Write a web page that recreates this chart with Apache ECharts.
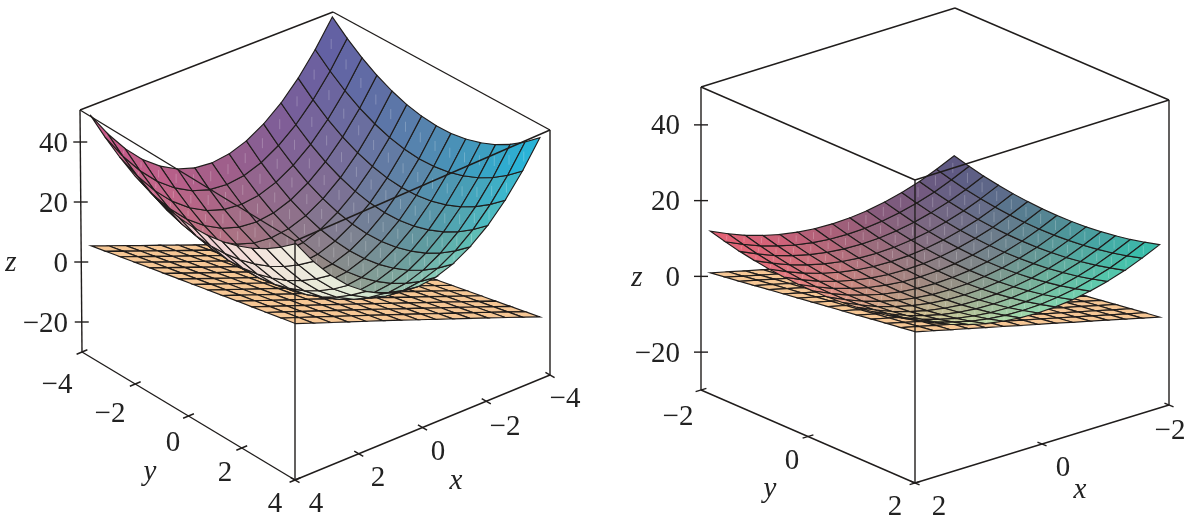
<!DOCTYPE html>
<html><head><meta charset="utf-8">
<style>html,body{margin:0;padding:0;background:#fff}#c{width:1193px;height:521px}</style>
<script src="https://cdn.jsdelivr.net/npm/echarts@6/dist/echarts.min.js"></script></head>
<body><div id="c"></div>
<script>
// ---------- data ----------
const surfaceXLeft=[-4,-3.43,-2.86,-2.29,-1.71,-1.14,-.57,0,.57,1.14,1.71,2.29,2.86,3.43,4];
const surfaceYLeft=[-4,-3.43,-2.86,-2.29,-1.71,-1.14,-.57,0,.57,1.14,1.71,2.29,2.86,3.43,4];
const surfaceZLeft=[
[48,39.51,32.33,26.45,21.88,18.61,16.65,16,16.65,18.61,21.88,26.45,32.33,39.51,48],
[43.76,35.27,28.09,22.21,17.64,14.37,12.41,11.76,12.41,14.37,17.64,22.21,28.09,35.27,43.76],
[40.16,31.67,24.49,18.61,14.04,10.77,8.81,8.16,8.81,10.77,14.04,18.61,24.49,31.67,40.16],
[37.22,28.73,21.55,15.67,11.1,7.83,5.87,5.22,5.87,7.83,11.1,15.67,21.55,28.73,37.22],
[34.94,26.45,19.27,13.39,8.82,5.55,3.59,2.94,3.59,5.55,8.82,13.39,19.27,26.45,34.94],
[33.31,24.82,17.64,11.76,7.19,3.92,1.96,1.31,1.96,3.92,7.19,11.76,17.64,24.82,33.31],
[32.33,23.84,16.66,10.78,6.21,2.94,.98,.33,.98,2.94,6.21,10.78,16.66,23.84,32.33],
[32,23.51,16.33,10.45,5.88,2.61,.65,0,.65,2.61,5.88,10.45,16.33,23.51,32],
[32.33,23.84,16.66,10.78,6.21,2.94,.98,.33,.98,2.94,6.21,10.78,16.66,23.84,32.33],
[33.31,24.82,17.64,11.76,7.19,3.92,1.96,1.31,1.96,3.92,7.19,11.76,17.64,24.82,33.31],
[34.94,26.45,19.27,13.39,8.82,5.55,3.59,2.94,3.59,5.55,8.82,13.39,19.27,26.45,34.94],
[37.22,28.73,21.55,15.67,11.1,7.83,5.87,5.22,5.87,7.83,11.1,15.67,21.55,28.73,37.22],
[40.16,31.67,24.49,18.61,14.04,10.77,8.81,8.16,8.81,10.77,14.04,18.61,24.49,31.67,40.16],
[43.76,35.27,28.09,22.21,17.64,14.37,12.41,11.76,12.41,14.37,17.64,22.21,28.09,35.27,43.76],
[48,39.51,32.33,26.45,21.88,18.61,16.65,16,16.65,18.61,21.88,26.45,32.33,39.51,48]];
const surfaceXRight=[-2,-1.71,-1.43,-1.14,-.86,-.57,-.29,0,.29,.57,.86,1.14,1.43,1.71,2];
const surfaceYRight=[-2,-1.71,-1.43,-1.14,-.86,-.57,-.29,0,.29,.57,.86,1.14,1.43,1.71,2];
const surfaceZRight=[
[12,9.88,8.08,6.61,5.47,4.65,4.16,4,4.16,4.65,5.47,6.61,8.08,9.88,12],
[10.94,8.82,7.02,5.55,4.41,3.59,3.1,2.94,3.1,3.59,4.41,5.55,7.02,8.82,10.94],
[10.04,7.92,6.12,4.65,3.51,2.69,2.2,2.04,2.2,2.69,3.51,4.65,6.12,7.92,10.04],
[9.31,7.19,5.39,3.92,2.78,1.96,1.47,1.31,1.47,1.96,2.78,3.92,5.39,7.19,9.31],
[8.73,6.61,4.81,3.34,2.2,1.38,.89,.73,.89,1.38,2.2,3.34,4.81,6.61,8.73],
[8.33,6.21,4.41,2.94,1.8,.98,.49,.33,.49,.98,1.8,2.94,4.41,6.21,8.33],
[8.08,5.96,4.16,2.69,1.55,.73,.24,.08,.24,.73,1.55,2.69,4.16,5.96,8.08],
[8,5.88,4.08,2.61,1.47,.65,.16,0,.16,.65,1.47,2.61,4.08,5.88,8],
[8.08,5.96,4.16,2.69,1.55,.73,.24,.08,.24,.73,1.55,2.69,4.16,5.96,8.08],
[8.33,6.21,4.41,2.94,1.8,.98,.49,.33,.49,.98,1.8,2.94,4.41,6.21,8.33],
[8.73,6.61,4.81,3.34,2.2,1.38,.89,.73,.89,1.38,2.2,3.34,4.81,6.61,8.73],
[9.31,7.19,5.39,3.92,2.78,1.96,1.47,1.31,1.47,1.96,2.78,3.92,5.39,7.19,9.31],
[10.04,7.92,6.12,4.65,3.51,2.69,2.2,2.04,2.2,2.69,3.51,4.65,6.12,7.92,10.04],
[10.94,8.82,7.02,5.55,4.41,3.59,3.1,2.94,3.1,3.59,4.41,5.55,7.02,8.82,10.94],
[12,9.88,8.08,6.61,5.47,4.65,4.16,4,4.16,4.65,5.47,6.61,8.08,9.88,12]];
const planeXLeft=surfaceXLeft, planeYLeft=surfaceYLeft;
const planeZLeft=[
[-27,-24.71,-22.43,-20.14,-17.86,-15.57,-13.29,-11,-8.71,-6.43,-4.14,-1.86,.43,2.71,5],
[-25.86,-23.57,-21.29,-19,-16.71,-14.43,-12.14,-9.86,-7.57,-5.29,-3,-.71,1.57,3.86,6.14],
[-24.71,-22.43,-20.14,-17.86,-15.57,-13.29,-11,-8.71,-6.43,-4.14,-1.86,.43,2.71,5,7.29],
[-23.57,-21.29,-19,-16.71,-14.43,-12.14,-9.86,-7.57,-5.29,-3,-.71,1.57,3.86,6.14,8.43],
[-22.43,-20.14,-17.86,-15.57,-13.29,-11,-8.71,-6.43,-4.14,-1.86,.43,2.71,5,7.29,9.57],
[-21.29,-19,-16.71,-14.43,-12.14,-9.86,-7.57,-5.29,-3,-.71,1.57,3.86,6.14,8.43,10.71],
[-20.14,-17.86,-15.57,-13.29,-11,-8.71,-6.43,-4.14,-1.86,.43,2.71,5,7.29,9.57,11.86],
[-19,-16.71,-14.43,-12.14,-9.86,-7.57,-5.29,-3,-.71,1.57,3.86,6.14,8.43,10.71,13],
[-17.86,-15.57,-13.29,-11,-8.71,-6.43,-4.14,-1.86,.43,2.71,5,7.29,9.57,11.86,14.14],
[-16.71,-14.43,-12.14,-9.86,-7.57,-5.29,-3,-.71,1.57,3.86,6.14,8.43,10.71,13,15.29],
[-15.57,-13.29,-11,-8.71,-6.43,-4.14,-1.86,.43,2.71,5,7.29,9.57,11.86,14.14,16.43],
[-14.43,-12.14,-9.86,-7.57,-5.29,-3,-.71,1.57,3.86,6.14,8.43,10.71,13,15.29,17.57],
[-13.29,-11,-8.71,-6.43,-4.14,-1.86,.43,2.71,5,7.29,9.57,11.86,14.14,16.43,18.71],
[-12.14,-9.86,-7.57,-5.29,-3,-.71,1.57,3.86,6.14,8.43,10.71,13,15.29,17.57,19.86],
[-11,-8.71,-6.43,-4.14,-1.86,.43,2.71,5,7.29,9.57,11.86,14.14,16.43,18.71,21]];
const planeXRight=surfaceXRight, planeYRight=surfaceYRight;
const planeZRight=[
[-15,-13.86,-12.71,-11.57,-10.43,-9.29,-8.14,-7,-5.86,-4.71,-3.57,-2.43,-1.29,-.14,1],
[-14.43,-13.29,-12.14,-11,-9.86,-8.71,-7.57,-6.43,-5.29,-4.14,-3,-1.86,-.71,.43,1.57],
[-13.86,-12.71,-11.57,-10.43,-9.29,-8.14,-7,-5.86,-4.71,-3.57,-2.43,-1.29,-.14,1,2.14],
[-13.29,-12.14,-11,-9.86,-8.71,-7.57,-6.43,-5.29,-4.14,-3,-1.86,-.71,.43,1.57,2.71],
[-12.71,-11.57,-10.43,-9.29,-8.14,-7,-5.86,-4.71,-3.57,-2.43,-1.29,-.14,1,2.14,3.29],
[-12.14,-11,-9.86,-8.71,-7.57,-6.43,-5.29,-4.14,-3,-1.86,-.71,.43,1.57,2.71,3.86],
[-11.57,-10.43,-9.29,-8.14,-7,-5.86,-4.71,-3.57,-2.43,-1.29,-.14,1,2.14,3.29,4.43],
[-11,-9.86,-8.71,-7.57,-6.43,-5.29,-4.14,-3,-1.86,-.71,.43,1.57,2.71,3.86,5],
[-10.43,-9.29,-8.14,-7,-5.86,-4.71,-3.57,-2.43,-1.29,-.14,1,2.14,3.29,4.43,5.57],
[-9.86,-8.71,-7.57,-6.43,-5.29,-4.14,-3,-1.86,-.71,.43,1.57,2.71,3.86,5,6.14],
[-9.29,-8.14,-7,-5.86,-4.71,-3.57,-2.43,-1.29,-.14,1,2.14,3.29,4.43,5.57,6.71],
[-8.71,-7.57,-6.43,-5.29,-4.14,-3,-1.86,-.71,.43,1.57,2.71,3.86,5,6.14,7.29],
[-8.14,-7,-5.86,-4.71,-3.57,-2.43,-1.29,-.14,1,2.14,3.29,4.43,5.57,6.71,7.86],
[-7.57,-6.43,-5.29,-4.14,-3,-1.86,-.71,.43,1.57,2.71,3.86,5,6.14,7.29,8.43],
[-7,-5.86,-4.71,-3.57,-2.43,-1.29,-.14,1,2.14,3.29,4.43,5.57,6.71,7.86,9]];
const zTicks=[-20,0,20,40];
const xyTicksLeft=[-4,-2,0,2,4];
const xyTicksRight=[-2,0,2];
// ---------- layout and style ----------
const FONT='"Liberation Serif","Times New Roman",serif';
const LINE='#201d1c';
const PLANE_COL='#f6c795';
const panels=[{
  range:4, zMin:-30, zMax:50.67, inset:.957,
  F:[295,480],L:[82,352],R:[550,375],B:[335,247],
  TF:[295,241],TL:[80,110],TR:[550,130],TB:[333,12],
  TLm:[80,106],TBm:[333,4],
  inner:[
   [[95,95,165],[128,92,152],[165,92,138],[190,92,138],[200,85,135]],
   [[90,112,168],[128,108,148],[155,116,132],[190,112,132],[215,125,155]],
   [[80,135,180],[112,130,152],[150,140,128],[200,160,150],[225,150,175]],
   [[55,160,198],[95,155,160],[148,170,152],[190,200,180],[235,200,205]],
   [[30,180,225],[95,195,185],[165,215,190],[215,230,210],[240,235,225]]],
  outer:[
   [[95,95,165],[128,92,152],[165,92,138],[190,92,138],[200,85,135]],
   [[90,112,168],[128,108,148],[170,130,150],[225,150,175],[225,150,175]],
   [[80,135,180],[112,130,152],[225,205,200],[235,205,205],[240,205,210]],
   [[55,160,198],[120,195,185],[200,225,200],[235,232,215],[245,225,220]],
   [[30,180,225],[120,200,190],[170,215,190],[225,235,215],[240,238,225]]],
  surface:[surfaceXLeft,surfaceYLeft,surfaceZLeft],
  plane:[planeXLeft,planeYLeft,planeZLeft],
  ticks:xyTicksLeft, tickLen:.17, zTickX:7,
  labels:[['−4',57,385],['−2',110,414],['0',173,443],['2',225,473],['4',275,504],
          ['4',316,504],['2',378,478],['0',438,452],['−2',505,427],['−4',565,399]],
  zLabelRight:68, axisNames:[['y',150,472],['x',456,481],['z',11,263]]
},{
  range:2, zMin:-30, zMax:50, inset:.96,
  F:[915,483],L:[701,390],R:[1169,405],B:[955,312],
  TF:[915,180],TL:[701,87],TR:[1169,100],TB:[955,8],
  TLm:[701,87],TBm:[955,8],
  inner:[
   [[90,85,130],[125,88,125],[165,92,120],[205,95,120],[230,95,115]],
   [[88,108,140],[122,110,132],[158,115,126],[202,118,125],[230,110,125]],
   [[78,138,150],[115,135,140],[155,140,130],[200,150,130],[235,145,135]],
   [[65,165,165],[105,175,155],[155,180,150],[205,190,145],[235,185,140]],
   [[50,190,170],[95,205,175],[150,220,175],[200,220,165],[230,215,155]]],
  outer:[
   [[90,85,130],[125,88,125],[165,92,120],[205,95,120],[230,95,115]],
   [[88,108,140],[122,110,132],[158,115,126],[202,118,125],[230,110,125]],
   [[78,138,150],[115,135,140],[155,140,130],[200,150,130],[235,145,135]],
   [[65,165,165],[105,175,155],[155,180,150],[205,190,145],[235,185,140]],
   [[50,190,170],[95,205,175],[150,220,175],[200,220,165],[230,215,155]]],
  surface:[surfaceXRight,surfaceYRight,surfaceZRight],
  plane:[planeXRight,planeYRight,planeZRight],
  ticks:xyTicksRight, tickLen:.085, zTickX:7,
  labels:[['−2',678,417],['0',792,461],['2',895,507],
          ['2',939,507],['0',1063,468],['−2',1170,431]],
  zLabelRight:680, axisNames:[['y',770,489],['x',1080,490],['z',637,278]]
}];
// ---------- projection ----------
const mix=(a,b,t)=>[a[0]+(b[0]-a[0])*t,a[1]+(b[1]-a[1])*t];
function project(p,x,y,z,tl,tb){
  const u=(p.range-x)/(2*p.range),v=(p.range-y)/(2*p.range),w=(z-p.zMin)/(p.zMax-p.zMin);
  const floor=mix(mix(p.F,p.R,u),mix(p.L,p.B,u),v);
  const top=mix(mix(p.TF,p.TR,u),mix(tl||p.TL,tb||p.TB,u),v);
  return mix(floor,top,w);
}
const markPos=(p,x,y,z)=>project(p,x*p.inset,y*p.inset,z,p.TLm,p.TBm);
function viewDir(p){
  const a=[(p.R[0]-p.F[0])/(-2*p.range),(p.R[1]-p.F[1])/(-2*p.range)];
  const b=[(p.L[0]-p.F[0])/(-2*p.range),(p.L[1]-p.F[1])/(-2*p.range)];
  const c=[(p.TF[0]-p.F[0])/(p.zMax-p.zMin),(p.TF[1]-p.F[1])/(p.zMax-p.zMin)];
  const v=[b[0]*c[1]-c[0]*b[1],c[0]*a[1]-a[0]*c[1],a[0]*b[1]-b[0]*a[1]];
  return v[2]<0?[-v[0],-v[1],-v[2]]:v;
}
function sample(tab,x,y,r){
  const fx=Math.min(3.999,Math.max(0,(x+r)/(2*r)*4)),fy=Math.min(3.999,Math.max(0,(y+r)/(2*r)*4));
  const i=Math.floor(fx),j=Math.floor(fy),s=fx-i,t=fy-j,out=[];
  for(let k=0;k<3;k++){
    out[k]=Math.round((tab[j][i][k]*(1-s)+tab[j][i+1][k]*s)*(1-t)+(tab[j+1][i][k]*(1-s)+tab[j+1][i+1][k]*s)*t);
  }
  return 'rgb('+out.join(',')+')';
}
function cells(p,mesh,colored){
  const [xs,ys,zs]=mesh,V=viewDir(p),list=[];
  const f=[markPos(p,0,0,0),markPos(p,1,0,0),markPos(p,0,1,0)];
  const flat=(f[1][0]-f[0][0])*(f[2][1]-f[0][1])-(f[1][1]-f[0][1])*(f[2][0]-f[0][0]);
  for(let j=0;j<ys.length-1;j++)for(let i=0;i<xs.length-1;i++){
    const q=[[i,j],[i+1,j],[i+1,j+1],[i,j+1]].map(([a,b])=>[xs[a],ys[b],zs[b][a]]);
    const s=q.map(c=>markPos(p,c[0],c[1],c[2]));
    let area=0;for(let k=0;k<4;k++){const n=s[(k+1)%4];area+=s[k][0]*n[1]-n[0]*s[k][1];}
    const cx=(xs[i]+xs[i+1])/2,cy=(ys[j]+ys[j+1])/2,cz=q.reduce((t,c)=>t+c[2],0)/4;
    const fromAbove=area*flat>0;
    list.push({depth:V[0]*cx*p.inset+V[1]*cy*p.inset+V[2]*cz,pts:s,dash:colored&&fromAbove,
      fill:colored?sample(fromAbove?p.inner:p.outer,cx,cy,p.range):PLANE_COL});
  }
  return list.sort((a,b)=>a.depth-b.depth);
}
function cellSeries(list,z,lw){
  return {type:'custom',coordinateSystem:'cartesian2d',clip:false,silent:true,z,
    data:list.map((c,i)=>[c.pts[0][0],c.pts[0][1],i]),encode:{x:0,y:1},
    renderItem:(params,api)=>{
      const c=list[api.value(2)],pts=c.pts.map(pt=>api.coord(pt));
      const kids=[{type:'polygon',shape:{points:pts},style:{fill:c.fill,stroke:LINE,lineWidth:lw}}];
      if(c.dash){
        const mx=pts.reduce((t,q)=>t+q[0],0)/4,my=pts.reduce((t,q)=>t+q[1],0)/4;
        const h=Math.min(5,Math.abs(pts[2][1]-pts[0][1])/4);
        kids.push({type:'line',shape:{x1:mx,y1:my-h,x2:mx,y2:my+h},style:{stroke:'rgba(255,255,255,.22)',lineWidth:1}});
      }
      return {type:'group',children:kids};
    }};
}
function frameSeries(p,z){
  const r=p.range,zl=p.zMin,P=(x,y,w)=>project(p,x,y,w);
  const segs=[
    [p.TL,p.TB],[p.TB,p.TR],[p.TR,p.TF],[p.TF,p.TL],
    [p.TL,p.L],[p.TF,p.F],[p.TR,p.R],[p.L,p.F],[p.F,p.R]];
  p.ticks.forEach(t=>{
    segs.push([P(r-p.tickLen,t,zl),P(r+p.tickLen,t,zl)]);
    segs.push([P(t,r-p.tickLen,zl),P(t,r+p.tickLen,zl)]);
  });
  zTicks.forEach(t=>{const a=P(r,-r,t);segs.push([[a[0]-p.zTickX,a[1]],[a[0]+p.zTickX,a[1]]]);});
  return {type:'custom',coordinateSystem:'cartesian2d',clip:false,silent:true,z,
    data:segs.map((s,i)=>[s[0][0],s[0][1],i]),encode:{x:0,y:1},
    renderItem:(params,api)=>{
      const s=segs[api.value(2)],a=api.coord(s[0]),b=api.coord(s[1]);
      return {type:'line',shape:{x1:a[0],y1:a[1],x2:b[0],y2:b[1]},style:{stroke:LINE,lineWidth:1.4,fill:null}};
    }};
}
function labelSeries(p,z){
  const L=[];
  p.labels.forEach(l=>L.push({t:l[0],x:l[1],y:l[2],align:'center',it:false}));
  zTicks.forEach(t=>{const a=project(p,p.range,-p.range,t);
    L.push({t:(t<0?'−':'')+Math.abs(t),x:p.zLabelRight,y:a[1]+2,align:'right',it:false});});
  p.axisNames.forEach(l=>L.push({t:l[0],x:l[1],y:l[2],align:'center',it:true}));
  return {type:'custom',coordinateSystem:'cartesian2d',clip:false,silent:true,z,
    data:L.map((l,i)=>[l.x,l.y,i]),encode:{x:0,y:1},
    renderItem:(params,api)=>{
      const l=L[api.value(2)],c=api.coord([l.x,l.y]);
      return {type:'text',style:{text:l.t,x:c[0],y:c[1],fill:'#222',
        font:(l.it?'italic ':'')+'29px '+FONT,align:l.align,verticalAlign:'middle',
        textAlign:l.align,textVerticalAlign:'middle'}};
    }};
}
const series=[];
panels.forEach(p=>{
  series.push(cellSeries(cells(p,p.plane,false),1,1.2));
  series.push(cellSeries(cells(p,p.surface,true),2,1.15));
  series.push(frameSeries(p,3));
  series.push(labelSeries(p,4));
});
const chart=echarts.init(document.getElementById('c'),null,{renderer:'canvas'});
chart.setOption({
  animation:false,backgroundColor:'#fff',
  grid:{left:0,right:0,top:0,bottom:0},
  xAxis:{type:'value',min:0,max:1193,show:false},
  yAxis:{type:'value',min:0,max:521,inverse:true,show:false},
  series
});
</script></body></html>
